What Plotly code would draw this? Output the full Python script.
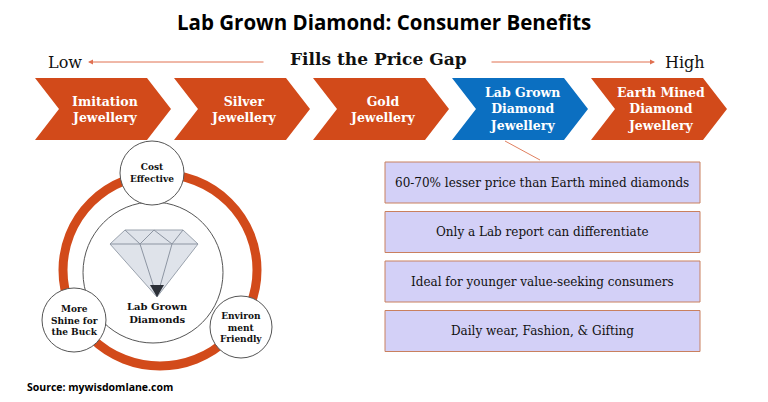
import plotly.graph_objects as go

# content
chevron_labels = ["Imitation<br>Jewellery", "Silver<br>Jewellery", "Gold<br>Jewellery",
                  "Lab Grown<br>Diamond<br>Jewellery", "Earth Mined<br>Diamond<br>Jewellery"]
chevron_colors = ["#d24a1a", "#d24a1a", "#d24a1a", "#0b6fc1", "#d24a1a"]
benefit_labels = ["60-70% lesser price than Earth mined diamonds",
                  "Only a Lab report can differentiate",
                  "Ideal for younger value-seeking consumers",
                  "Daily wear, Fashion, & Gifting"]
circle_labels = ["Cost<br>Effective", "More<br>Shine for<br>the Buck", "Environ<br>ment<br>Friendly"]

ORANGE = "#d24a1a"
SERIF = "DejaVu Serif"

fig = go.Figure()
shapes = []
ann = []

def text(x, y, s, size, color="#111", font=SERIF, bold=True, **kw):
    ann.append(dict(x=x, y=y, text=f"<b>{s}</b>" if bold else s, showarrow=False,
                    font=dict(size=size, color=color, family=font), **kw))

text(384, 22, "Lab Grown Diamond: Consumer Benefits", 20.5, "#000", "Open Sans")

# price gap row
text(65, 62, "Low", 16, bold=False)
text(378, 59, "Fills the Price Gap", 17)
text(685, 62, "High", 16, bold=False)
ann.append(dict(x=88, y=62, ax=265, ay=62, xref="x", yref="y", axref="x", ayref="y",
                showarrow=True, arrowhead=2, arrowsize=1, arrowwidth=1, arrowcolor="#e07050", text=""))
ann.append(dict(x=655, y=62, ax=490, ay=62, xref="x", yref="y", axref="x", ayref="y",
                showarrow=True, arrowhead=2, arrowsize=1, arrowwidth=1, arrowcolor="#e07050", text=""))

# chevrons
x0, w, gap, d, top, bot = 35, 136, 3, 24, 78, 140
mid = (top + bot) / 2
for i, (lab, col) in enumerate(zip(chevron_labels, chevron_colors)):
    a = x0 + i * (w + gap)
    path = (f"M{a},{top} L{a+w-d},{top} L{a+w},{mid} L{a+w-d},{bot} L{a},{bot} "
            f"L{a+d},{mid} Z")
    shapes.append(dict(type="path", path=path, fillcolor=col, line=dict(width=0)))
    text(a + w / 2 + 2, mid, lab, 12.5, "white")

# connector
shapes.append(dict(type="line", x0=505, y0=141, x1=540, y1=160, line=dict(color="#e08060", width=1)))

# benefit boxes
for i, lab in enumerate(benefit_labels):
    y0 = 162 + i * 49.5
    shapes.append(dict(type="rect", x0=385, x1=700, y0=y0, y1=y0 + 41,
                       fillcolor="#d3d0f7", line=dict(color="#c9805f", width=1)))
    text(542, y0 + 20.5, lab, 12, "#111", bold=False)

# ring
shapes.append(dict(type="circle", x0=63, x1=257, y0=174, y1=366, line=dict(color=ORANGE, width=9)))
shapes.append(dict(type="circle", x0=83, x1=223, y0=202, y1=343, fillcolor="white",
                   line=dict(color="#555", width=1)))

# diamond
shapes.append(dict(type="path", path="M125,230 L183,230 L198,244 L157,297 L110,244 Z",
                   fillcolor="#dfe3ea", line=dict(color="#9aa2ad", width=1)))
shapes.append(dict(type="path", path="M110,244 L198,244 M125,230 L140,244 L157,297 L172,244 L183,230 "
                   "M154,230 L140,244 M154,230 L172,244",
                   line=dict(color="#8d95a2", width=1)))
shapes.append(dict(type="path", path="M150,285 L164,285 L157,297 Z", fillcolor="#2c3038", line=dict(width=0)))
text(157, 313, "Lab Grown<br>Diamonds", 10)

# small circles
for (cx, cy, r), lab in zip([(152, 173, 32), (74, 320, 32), (241, 327, 31)], circle_labels):
    shapes.append(dict(type="circle", x0=cx - r, x1=cx + r, y0=cy - r, y1=cy + r,
                       fillcolor="white", line=dict(color="#555", width=1)))
    text(cx, cy, lab, 9)

text(100, 387, "Source: mywisdomlane.com", 10.5, "#000", "Open Sans")

# the page adds an 8px body margin, so the axes start 8 units in
fig.update_layout(
    width=768, height=402, margin=dict(l=0, r=0, t=0, b=0),
    paper_bgcolor="white", plot_bgcolor="white", showlegend=False,
    xaxis=dict(range=[8, 776], visible=False, fixedrange=True),
    yaxis=dict(range=[410, 8], visible=False, fixedrange=True),
    shapes=shapes, annotations=ann,
)
fig.write_html("out.html")
